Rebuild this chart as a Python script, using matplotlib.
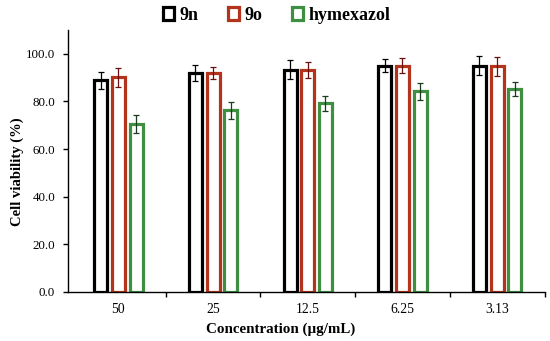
import numpy as np
import matplotlib
matplotlib.use("Agg")
import matplotlib.pyplot as plt
from matplotlib.patches import Patch

plt.rcParams['font.family'] = ['Liberation Serif', 'DejaVu Serif']

concentrations = ["50", "25", "12.5", "6.25", "3.13"]
series_names = ["9n", "9o", "hymexazol"]
v_9n = [88.9, 91.9, 93.3, 95.0, 95.0]
e_9n = [3.6, 3.3, 4.0, 2.8, 3.9]
v_9o = [90.1, 91.9, 93.3, 95.0, 94.7]
e_9o = [3.9, 2.6, 3.4, 3.1, 3.9]
v_hym = [70.6, 76.2, 79.2, 84.2, 85.2]
e_hym = [3.9, 3.5, 3.1, 3.5, 2.8]

edge_colors = ["#000000", "#b3331c", "#3f8f43"]
err_colors = ["#000000", "#6a1010", "#1e3a1e"]

fig = plt.figure(figsize=(5.5, 3.41), dpi=100)
ax = fig.add_axes([0.124, 0.144, 0.866, 0.768])

x = np.arange(len(concentrations))
width = 0.137
step = 0.187
values = [v_9n, v_9o, v_hym]
errors = [e_9n, e_9o, e_hym]
for i in range(3):
    ax.bar(x + (i - 1) * step, values[i], width, facecolor="white",
           edgecolor=edge_colors[i], linewidth=2.3, zorder=2)
    ax.errorbar(x + (i - 1) * step, values[i], yerr=errors[i], fmt="none",
                ecolor=err_colors[i], elinewidth=0.9, capsize=2.5,
                capthick=0.9, zorder=3)

ax.set_xlim(-0.53, 4.5)
ax.set_ylim(0, 110)
ax.set_yticks(np.arange(0, 101, 20))
ax.set_yticklabels(["%.1f" % t for t in np.arange(0, 101, 20)], fontsize=9.3)
ax.set_xticks(x)
ax.set_xticklabels(concentrations, fontsize=9.8)
ax.set_xticks(np.arange(0.5, 4.6, 1.0), minor=True)
ax.tick_params(axis="x", which="major", length=0, pad=8)
ax.tick_params(axis="x", which="minor", length=3.5, width=1, direction="out")
ax.tick_params(axis="y", length=3.5, width=1, direction="out", pad=6)

for s in ["top", "right"]:
    ax.spines[s].set_visible(False)
ax.spines["left"].set_linewidth(1)
ax.spines["bottom"].set_linewidth(1)

ax.set_xlabel("Concentration (µg/mL)", fontsize=10.8, fontweight="bold")
ax.set_ylabel("Cell viability (%)", fontsize=10.5, fontweight="bold")
ax.xaxis.set_label_coords(0.447, -0.118)
ax.yaxis.set_label_coords(-0.092, 0.46)

handles = [Patch(facecolor="white", edgecolor=edge_colors[i], linewidth=2.3)
           for i in range(3)]
leg = fig.legend(handles, series_names, loc="center", bbox_to_anchor=(0.503, 0.955),
                 ncol=3, frameon=False, handlelength=0.65, handleheight=0.65,
                 handletextpad=0.3, columnspacing=1.6,
                 prop={"weight": "bold", "size": 13})

fig.savefig("out.png", dpi=100)
